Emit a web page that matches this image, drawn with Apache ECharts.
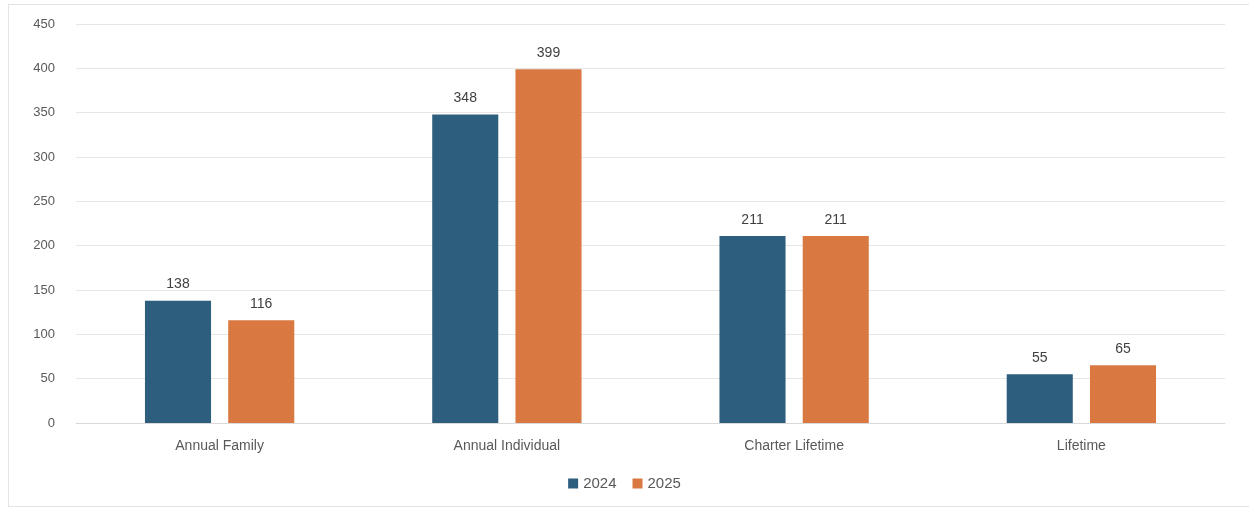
<!DOCTYPE html>
<html>
<head>
<meta charset="utf-8">
<script src="https://cdn.jsdelivr.net/npm/echarts@6/dist/echarts.min.js"></script>
<style>
html,body{margin:0;padding:0;background:#fff;}
#frame{position:absolute;left:8px;top:4px;width:1250px;height:503px;border:1px solid #e3e3e3;box-sizing:border-box;}
#c{position:absolute;left:0;top:0;width:1249px;height:510px;}
</style>
</head>
<body>
<div id="frame"></div>
<div id="c"></div>
<script>
const categories = ["Annual Family", "Annual Individual", "Charter Lifetime", "Lifetime"];
const seriesNames = ["2024", "2025"];
const values2024 = [138, 348, 211, 55];
const values2025 = [116, 399, 211, 65];
const yTicks = [0, 50, 100, 150, 200, 250, 300, 350, 400, 450];

const chart = echarts.init(document.getElementById('c'), null, {renderer: 'canvas'});
const labelStyle = {show: true, position: 'top', distance: 9, color: '#404040', fontSize: 14, fontFamily: 'Liberation Sans, Arial, sans-serif'};
chart.setOption({
  animation: false,
  backgroundColor: 'transparent',
  grid: {left: 76, right: 24, top: 24, bottom: 87, containLabel: false},
  legend: {
    data: seriesNames, bottom: 14, left: 'center',
    itemWidth: 10, itemHeight: 10, itemGap: 16, icon: 'rect',
    textStyle: {color: '#595959', fontSize: 15, fontFamily: 'Liberation Sans, Arial, sans-serif'}
  },
  xAxis: {
    type: 'category', data: categories,
    axisLine: {show: true, lineStyle: {color: '#d9d9d9', width: 1}},
    axisTick: {show: false},
    axisLabel: {color: '#595959', fontSize: 14, margin: 16, fontFamily: 'Liberation Sans, Arial, sans-serif'}
  },
  yAxis: {
    type: 'value', min: yTicks[0], max: yTicks[yTicks.length - 1], interval: 50,
    axisLine: {show: false}, axisTick: {show: false},
    axisLabel: {color: '#595959', fontSize: 13, margin: 21, fontFamily: 'Liberation Sans, Arial, sans-serif'},
    splitLine: {lineStyle: {color: '#e6e6e6', width: 1}}
  },
  series: [
    {name: seriesNames[0], type: 'bar', data: values2024, barWidth: '23%', barGap: '26%',
     itemStyle: {color: '#2E5E7E'}, label: labelStyle},
    {name: seriesNames[1], type: 'bar', data: values2025, barWidth: '23%', barGap: '26%',
     itemStyle: {color: '#D97840'}, label: labelStyle}
  ]
});
</script>
</body>
</html>
